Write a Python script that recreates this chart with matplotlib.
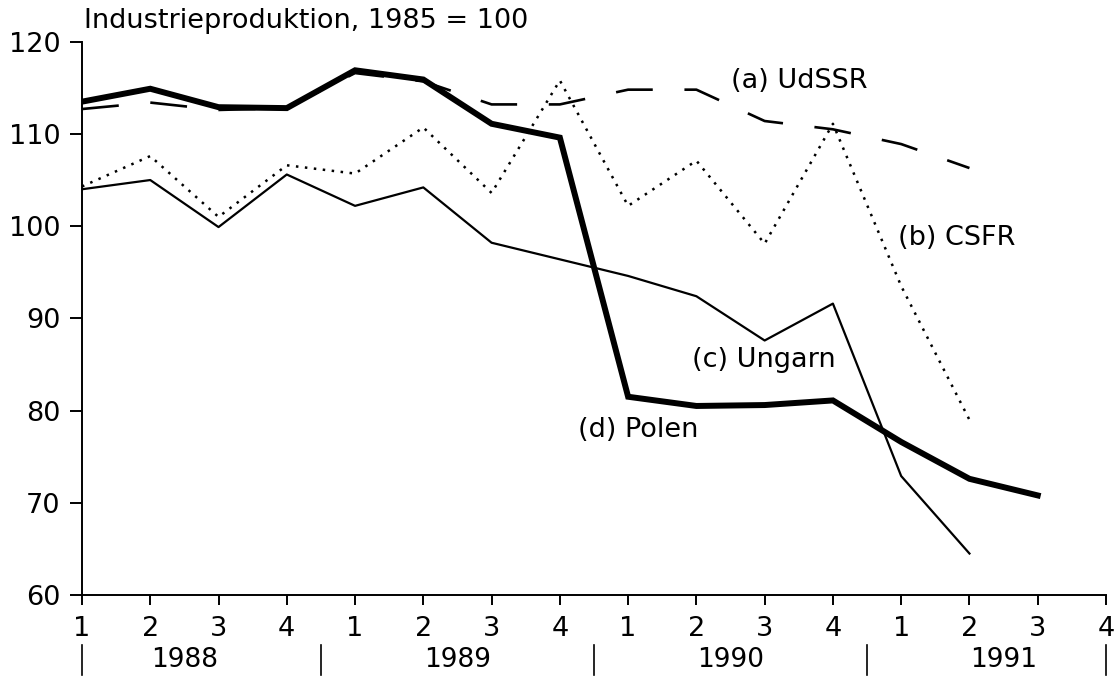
import numpy as np
import matplotlib
matplotlib.use("Agg")
import matplotlib.pyplot as plt

# Quartale 1988 Q1 bis 1991 Q4
quarter_labels = ['1', '2', '3', '4'] * 4
years = ['1988', '1989', '1990', '1991']

# Industrieproduktion, 1985 = 100
udssr = [112.7, 113.4, 112.6, 112.8, 116.6, 115.7, 113.2, 113.2,
         114.8, 114.8, 111.4, 110.5, 108.9, 106.3]
csfr = [104.3, 107.6, 101.0, 106.6, 105.7, 110.7, 103.6, 115.8,
        102.2, 107.1, 98.1, 111.1, 93.5, 79.0]
ungarn = [104.0, 105.0, 99.9, 105.6, 102.2, 104.2, 98.2, 96.4,
          94.6, 92.4, 87.6, 91.6, 72.9, 64.5]
polen = [113.5, 114.9, 112.9, 112.8, 116.9, 115.9, 111.1, 109.6,
         81.5, 80.5, 80.6, 81.1, 76.6, 72.6, 70.8]

plt.rcParams['font.family'] = 'DejaVu Sans'
fs = 19.5

fig = plt.figure(figsize=(11.14, 6.76), dpi=100)
ax = fig.add_axes([0.0736, 0.1198, 0.9192, 0.8185])

ax.plot(np.arange(len(udssr)), udssr, color='black', lw=1.9,
        linestyle=(0, (14, 12)), solid_capstyle='butt')
ax.plot(np.arange(len(csfr)), csfr, color='black', lw=1.8,
        linestyle=(0, (1, 2.6)))
ax.plot(np.arange(len(ungarn)), ungarn, color='black', lw=1.6)
ax.plot(np.arange(len(polen)), polen, color='black', lw=4.3,
        solid_joinstyle='miter')

ax.set_xlim(0, 15)
ax.set_ylim(60, 120)
ax.set_xticks(np.arange(16))
ax.set_xticklabels(quarter_labels)
ax.set_yticks(np.arange(60, 121, 10))

for side in ['top', 'right']:
    ax.spines[side].set_visible(False)
for side in ['left', 'bottom']:
    ax.spines[side].set_linewidth(1.4)
ax.tick_params(axis='both', direction='out', width=1.4, labelsize=fs)
ax.tick_params(axis='y', length=8.5, pad=7)
ax.tick_params(axis='x', length=7, pad=8)

# Jahreszeile unter den Quartalen
trans = ax.get_xaxis_transform()
for k, yr in enumerate(years):
    ax.text(4 * k + 1.5, -0.131, yr, transform=trans, ha='center',
            va='baseline', fontsize=19)
for xb in [0, 3.5, 7.5, 11.5, 15]:
    ax.plot([xb, xb], [-0.09, -0.145], transform=trans, color='black',
            lw=1.2, clip_on=False)

# Beschriftung der Kurven
ax.text(9.51, 115.7, '(a) UdSSR', fontsize=fs, va='center', ha='left')
ax.text(11.95, 98.7, '(b) CSFR', fontsize=fs, va='center', ha='left')
ax.text(8.94, 85.5, '(c) Ungarn', fontsize=fs, va='center', ha='left')
ax.text(7.27, 77.9, '(d) Polen', fontsize=fs, va='center', ha='left')

fig.text(84 / 1114, 1 - 21 / 676, 'Industrieproduktion, 1985 = 100',
         fontsize=fs, va='center', ha='left')

plt.savefig('out.png', dpi=100)
